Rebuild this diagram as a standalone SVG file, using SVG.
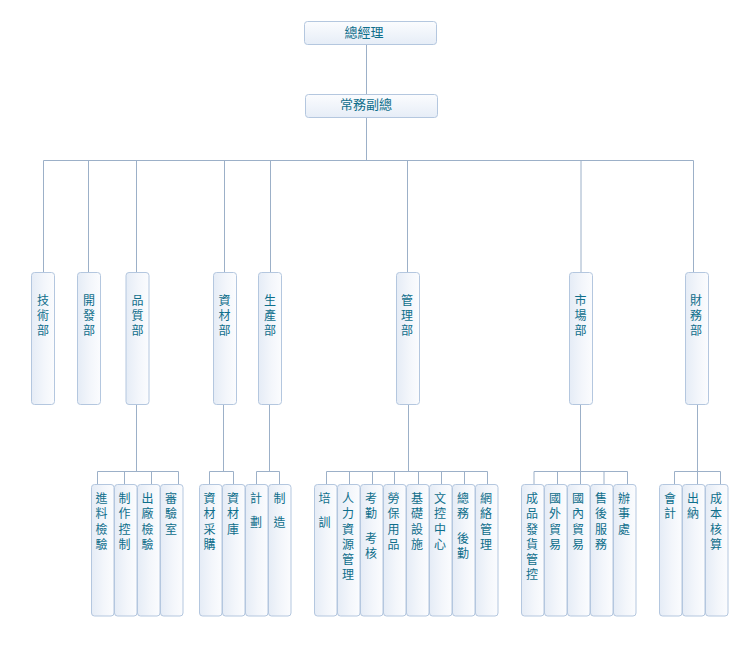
<svg xmlns="http://www.w3.org/2000/svg" width="740" height="656" viewBox="0 0 740 656">
<defs>
<linearGradient id="gh" x1="0" y1="0" x2="0" y2="1">
<stop offset="0" stop-color="#fbfcfe"/>
<stop offset="1" stop-color="#e6edf7"/>
</linearGradient>
<linearGradient id="gv" x1="0" y1="0" x2="1" y2="0">
<stop offset="0" stop-color="#e5ecf6"/>
<stop offset="0.55" stop-color="#f3f6fb"/>
<stop offset="1" stop-color="#fbfcfe"/>
</linearGradient>
<style>
.bh{fill:url(#gh);stroke:#b4c7df;stroke-width:1}
.bv{fill:url(#gv);stroke:#b4c7df;stroke-width:1}
.t{font-family:"Noto Sans CJK TC","Noto Sans CJK SC",sans-serif;font-size:12px;fill:#0e6e8b;text-anchor:middle}
.tt{font-size:13px}
.v{font-family:"Noto Sans CJK TC","Noto Sans CJK SC",sans-serif;font-size:12px;fill:#0e6e8b;writing-mode:vertical-rl;text-orientation:upright;text-anchor:start;letter-spacing:3.2px}
.d{letter-spacing:3px}
#connectors path{stroke:#9cb0c8;stroke-width:1;fill:none}
</style>
</defs>
<rect width="740" height="656" fill="#ffffff"/>
<g id="connectors">
<path d="M366.5 44V94M366.5 117V160.5"/>
<path d="M43.5 160.5H693.5"/>
<path d="M43.5 160.5V272M88.5 160.5V272M136.5 160.5V272M224.5 160.5V272M270.5 160.5V272M407.5 160.5V272M581 160.5V272M693.5 160.5V272"/>
<path d="M136.5 404.5V471.5M223.5 404.5V471.5M269.5 404.5V471.5M408.5 404.5V471.5M580.5 404.5V471.5M697.5 404.5V471.5"/>
<path d="M97.5 471.5H178.5M209.5 471.5H233.5M256.5 471.5H279.5M326.5 471.5H487.5M534 471.5H627.5M674.5 471.5H720.5"/>
<path d="M97.5 471.5V484M124.5 471.5V484M151.5 471.5V484M178.5 471.5V484"/>
<path d="M209.5 471.5V484M233.5 471.5V484M256.5 471.5V484M279.5 471.5V484"/>
<path d="M326.5 471.5V484M349.5 471.5V484M372.5 471.5V484M394.5 471.5V484M418.5 471.5V484M441.5 471.5V484M464.5 471.5V484M487.5 471.5V484"/>
<path d="M534 471.5V484M557.5 471.5V484M580.5 471.5V484M604 471.5V484M627.5 471.5V484"/>
<path d="M674.5 471.5V484M697.5 471.5V484M720.5 471.5V484"/>
</g>
<g id="n_gm"><rect class="bh" x="304.5" y="21.5" width="132" height="23" rx="3"/><text class="t tt" x="364" y="37">總經理</text></g>
<g id="n_vp"><rect class="bh" x="305.5" y="94.5" width="132" height="23" rx="3"/><text class="t tt" x="366" y="109">常務副總</text></g>

<g id="d_tech"><rect class="bv" x="31.5" y="272.5" width="23" height="132" rx="3"/><text class="v d" x="43" y="294.5">技術部</text></g>
<g id="d_dev"><rect class="bv" x="77.5" y="272.5" width="23" height="132" rx="3"/><text class="v d" x="89" y="294.5">開發部</text></g>
<g id="d_qa"><rect class="bv" x="126" y="272.5" width="23" height="132" rx="3"/><text class="v d" x="137.5" y="294.5">品質部</text></g>
<g id="d_mat"><rect class="bv" x="213.5" y="272.5" width="23" height="132" rx="3"/><text class="v d" x="224.5" y="294.5">資材部</text></g>
<g id="d_prod"><rect class="bv" x="258.5" y="272.5" width="23" height="132" rx="3"/><text class="v d" x="270" y="294.5">生產部</text></g>
<g id="d_adm"><rect class="bv" x="396.5" y="272.5" width="23" height="132" rx="3"/><text class="v d" x="407" y="294.5">管理部</text></g>
<g id="d_mkt"><rect class="bv" x="569.5" y="272.5" width="23" height="132" rx="3"/><text class="v d" x="580.5" y="294.5">市場部</text></g>
<g id="d_fin"><rect class="bv" x="685.5" y="272.5" width="23" height="132" rx="3"/><text class="v d" x="696" y="294.5">財務部</text></g>

<g id="s_q1"><rect class="bv" x="91.5" y="484.5" width="22.5" height="131.5" rx="3"/><text class="v" x="101.5" y="492.7">進料檢驗</text></g>
<g id="s_q2"><rect class="bv" x="114.5" y="484.5" width="22.5" height="131.5" rx="3"/><text class="v" x="124.5" y="492.7">制作控制</text></g>
<g id="s_q3"><rect class="bv" x="137.5" y="484.5" width="22.5" height="131.5" rx="3"/><text class="v" x="147.5" y="492.7">出廠檢驗</text></g>
<g id="s_q4"><rect class="bv" x="160.5" y="484.5" width="22.5" height="131.5" rx="3"/><text class="v" x="171" y="492.7">審驗室</text></g>

<g id="s_m1"><rect class="bv" x="199.5" y="484.5" width="22.5" height="131.5" rx="3"/><text class="v" x="209.5" y="492.7">資材采購</text></g>
<g id="s_m2"><rect class="bv" x="222.5" y="484.5" width="22.5" height="131.5" rx="3"/><text class="v" x="233" y="492.7">資材庫</text></g>

<g id="s_p1"><rect class="bv" x="245.5" y="484.5" width="22.5" height="131.5" rx="3"/><text class="v" x="256" y="492.7">計</text><text class="v" x="256" y="516.5">劃</text></g>
<g id="s_p2"><rect class="bv" x="268.5" y="484.5" width="22.5" height="131.5" rx="3"/><text class="v" x="279.5" y="492.7">制</text><text class="v" x="279.5" y="516.5">造</text></g>

<g id="s_a1"><rect class="bv" x="314.5" y="484.5" width="22.5" height="131.5" rx="3"/><text class="v" x="324.5" y="492.7">培</text><text class="v" x="324.5" y="516.5">訓</text></g>
<g id="s_a2"><rect class="bv" x="337.5" y="484.5" width="22.5" height="131.5" rx="3"/><text class="v" x="348" y="492.7">人力資源管理</text></g>
<g id="s_a3"><rect class="bv" x="360.5" y="484.5" width="22.5" height="131.5" rx="3"/><text class="v" x="371" y="492.7">考勤</text><text class="v" x="371" y="532.7">考核</text></g>
<g id="s_a4"><rect class="bv" x="383.5" y="484.5" width="22.5" height="131.5" rx="3"/><text class="v" x="393.5" y="492.7">勞保用品</text></g>
<g id="s_a5"><rect class="bv" x="406.5" y="484.5" width="22.5" height="131.5" rx="3"/><text class="v" x="417" y="492.7">基礎設施</text></g>
<g id="s_a6"><rect class="bv" x="429.5" y="484.5" width="22.5" height="131.5" rx="3"/><text class="v" x="440" y="492.7">文控中心</text></g>
<g id="s_a7"><rect class="bv" x="452.5" y="484.5" width="22.5" height="131.5" rx="3"/><text class="v" x="463" y="492.7">總務</text><text class="v" x="463" y="532.7">後勤</text></g>
<g id="s_a8"><rect class="bv" x="475.5" y="484.5" width="22.5" height="131.5" rx="3"/><text class="v" x="486" y="492.7">網絡管理</text></g>

<g id="s_k1"><rect class="bv" x="521.5" y="484.5" width="22.5" height="131.5" rx="3"/><text class="v" x="532" y="492.7">成品發貨管控</text></g>
<g id="s_k2"><rect class="bv" x="544.5" y="484.5" width="22.5" height="131.5" rx="3"/><text class="v" x="555" y="492.7">國外貿易</text></g>
<g id="s_k3"><rect class="bv" x="567.5" y="484.5" width="22.5" height="131.5" rx="3"/><text class="v" x="578" y="492.7">國內貿易</text></g>
<g id="s_k4"><rect class="bv" x="590.5" y="484.5" width="22.5" height="131.5" rx="3"/><text class="v" x="601" y="492.7">售後服務</text></g>
<g id="s_k5"><rect class="bv" x="613.5" y="484.5" width="22.5" height="131.5" rx="3"/><text class="v" x="624" y="492.7">辦事處</text></g>

<g id="s_f1"><rect class="bv" x="659.5" y="484.5" width="22.5" height="131.5" rx="3"/><text class="v" x="670" y="492.7">會計</text></g>
<g id="s_f2"><rect class="bv" x="682.5" y="484.5" width="22.5" height="131.5" rx="3"/><text class="v" x="693" y="492.7">出納</text></g>
<g id="s_f3"><rect class="bv" x="705.5" y="484.5" width="22.5" height="131.5" rx="3"/><text class="v" x="716" y="492.7">成本核算</text></g>
</svg>
